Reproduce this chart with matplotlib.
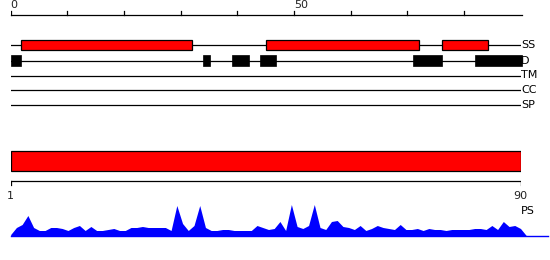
import numpy as np
import matplotlib
matplotlib.use('Agg')
import matplotlib.pyplot as plt
from matplotlib.patches import Rectangle

# sequence length and ruler ticks
seq_len = 90
ruler_ticks = [0, 10, 20, 30, 40, 50, 60, 70, 80]
ruler_labels = {0: '0', 50: '50'}

# feature tracks (start, end) in residue units
track_names = ['SS', 'D', 'TM', 'CC', 'SP']
ss_regions = [(1.9, 32.0), (45.0, 72.1), (76.1, 84.2)]
d_regions = [(0.0, 1.9), (33.9, 35.1), (39.0, 42.1), (44.0, 46.9),
             (71.0, 76.2), (82.0, 90.3)]
full_region = (1, 90)

# per-residue profile (PS)
ps_values = [1, 8, 11, 20, 8, 5, 5, 8, 8, 7,
             5, 8, 10, 5, 9, 5, 5, 6, 7, 5,
             5, 8, 8, 9, 8, 8, 8, 8, 5, 30,
             12, 5, 10, 30, 8, 5, 5, 6, 6, 5,
             5, 5, 5, 10, 8, 6, 7, 14, 5, 31,
             9, 7, 10, 31, 8, 6, 14, 15, 9, 8,
             6, 10, 5, 7, 10, 8, 7, 6, 11, 6,
             6, 7, 5, 7, 6, 6, 5, 6, 6, 6,
             6, 7, 7, 6, 10, 6, 14, 9, 10, 7]

W, H = 550, 260
fig = plt.figure(figsize=(W / 100, H / 100), dpi=100)
fs = 8

# top part: x in residue units, y in pixels (0 at top)
ax = fig.add_axes([10.7 / W, 0, 509.8 / W, 1])
ax.set_xlim(0, seq_len)
ax.set_ylim(H, 0)
ax.axis('off')

# ruler
ax.plot([0, seq_len + 0.2], [15, 15], color='black', lw=0.9, clip_on=False)
for t in ruler_ticks:
    ax.plot([t, t], [15, 10.5], color='black', lw=0.9)
    if t in ruler_labels:
        ax.text(t, 10, ruler_labels[t], ha='left', va='bottom', fontsize=fs,
                color='#222222')

row_y = [45, 60.5, 75.5, 90, 105.3]
for name, y in zip(track_names, row_y):
    ax.plot([0, seq_len], [y, y], color='black', lw=0.9, zorder=1)
    ax.text(seq_len + 0.1, y, name, ha='left', va='center', fontsize=fs)

for s, e in ss_regions:
    ax.add_patch(Rectangle((s, row_y[0] - 5), e - s, 10, facecolor='#ff0000',
                           edgecolor='black', lw=0.9, zorder=2))
for s, e in d_regions:
    ax.add_patch(Rectangle((s, row_y[1] - 5.3), e - s, 10.6, facecolor='black',
                           edgecolor='black', lw=0.5, zorder=2, clip_on=False))

# bottom part: x in residue numbers 1..90
bx = fig.add_axes([10.7 / W, 0, 509.8 / W, 1])
bx.set_xlim(1, seq_len)
bx.set_ylim(H, 0)
bx.axis('off')
bx.add_patch(Rectangle((full_region[0], 150.7), full_region[1] - full_region[0], 20,
                       facecolor='#ff0000', edgecolor='black', lw=0.9))
bx.plot([1, seq_len], [180.7, 180.7], color='black', lw=0.9)
bx.plot([1, 1], [180.7, 185], color='black', lw=0.9)
bx.plot([seq_len, seq_len], [180.7, 185], color='black', lw=0.9)
bx.text(1, 196, '1', ha='center', va='center', fontsize=fs, color='#222222')
bx.text(seq_len, 196, str(seq_len), ha='center', va='center', fontsize=fs,
        color='#222222')
bx.text(seq_len + 0.15, 211, 'PS', ha='left', va='center', fontsize=fs)

# profile area
px = fig.add_axes([10.7 / W, (H - 235.5) / H, 509.8 / W, 35 / H])
px.set_xlim(1, seq_len)
px.set_ylim(0, 35)
px.axis('off')
res = np.arange(1, len(ps_values) + 2)
vals = np.append(ps_values, 0)
px.fill_between(res, 0, vals, color='#0000ff', lw=0, clip_on=False)
px.plot([1, seq_len + 4.8], [0, 0], color='#0000ff', lw=1.0, clip_on=False)

fig.savefig('out.png', dpi=100)
plt.close(fig)
